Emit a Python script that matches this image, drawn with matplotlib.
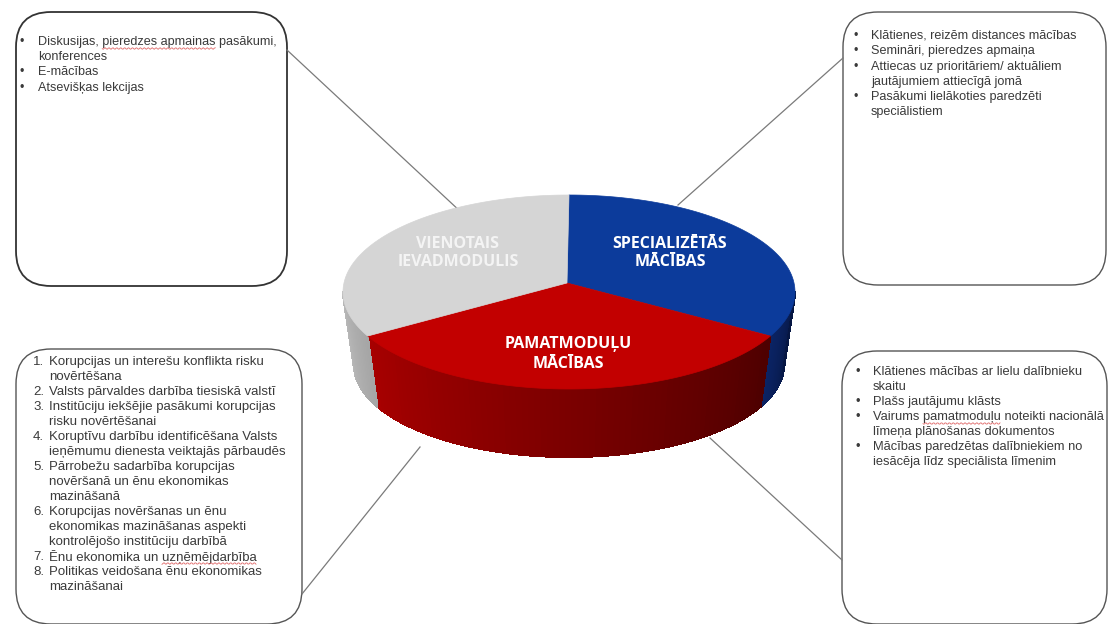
import numpy as np
import matplotlib
matplotlib.use("Agg")
import matplotlib.pyplot as plt
from matplotlib.patches import FancyBboxPatch, Polygon
from matplotlib.collections import PolyCollection
from matplotlib.colors import LinearSegmentedColormap

# pie data (clockwise from 12 o'clock)
slice_names  = ["SPECIALIZĒTĀS\nMĀCĪBAS", "PAMATMODUĻU\nMĀCĪBAS", "VIENOTAIS\nIEVADMODULIS"]
slice_values = [32.5, 35, 32.5]
slice_top    = ["#0c3b9b", "#c20000", "#d5d5d5"]
slice_side   = [("#0b2466", "#061642"), ("#a80000", "#4e0000"), ("#bdbdbd", "#a6a6a6")]
label_colors = ["white", "white", "#f4f4f4"]
label_xy     = [(670, 253), (568, 354), (458, 253)]

# box texts
tl_items = [["Diskusijas, pieredzes apmainas pasākumi,", "konferences"],
            ["E-mācības"],
            ["Atsevišķas lekcijas"]]
tr_items = [["Klātienes, reizēm distances mācības"],
            ["Semināri, pieredzes apmaiņa"],
            ["Attiecas uz prioritāriem/ aktuāliem", "jautājumiem attiecīgā jomā"],
            ["Pasākumi lielākoties paredzēti", "speciālistiem"]]
bl_items = [["Korupcijas un interešu konflikta risku", "novērtēšana"],
            ["Valsts pārvaldes darbība tiesiskā valstī"],
            ["Institūciju iekšējie pasākumi korupcijas", "risku novērtēšanai"],
            ["Koruptīvu darbību identificēšana Valsts", "ieņēmumu dienesta veiktajās pārbaudēs"],
            ["Pārrobežu sadarbība korupcijas", "novēršanā un ēnu ekonomikas", "mazināšanā"],
            ["Korupcijas novēršanas un ēnu", "ekonomikas mazināšanas aspekti", "kontrolējošo institūciju darbībā"],
            ["Ēnu ekonomika un uzņēmējdarbība"],
            ["Politikas veidošana ēnu ekonomikas", "mazināšanai"]]
br_items = [["Klātienes mācības ar lielu dalībnieku", "skaitu"],
            ["Plašs jautājumu klāsts"],
            ["Vairums pamatmoduļu noteikti nacionālā", "līmeņa plānošanas dokumentos"],
            ["Mācības paredzētas dalībniekiem no", "iesācēja līdz speciālista līmenim"]]

# words with a spell-check underline: (line text, word)
flagged = [("Diskusijas, pieredzes apmainas pasākumi,", "pieredzes apmainas"),
           ("Ēnu ekonomika un uzņēmējdarbība", "uzņēmējdarbība"),
           ("Vairums pamatmoduļu noteikti nacionālā", "pamatmoduļu")]

fig = plt.figure(figsize=(11.08, 6.24), dpi=100)
ax = fig.add_axes([0, 0, 1, 1])
ax.set_xlim(0, 1108)
ax.set_ylim(624, 0)
ax.axis("off")

# connector lines (under the pie)
for (x0, y0), (x1, y1) in [((287, 50), (462, 213)), ((843, 58), (678, 205)),
                           ((302, 594), (420, 447)), ((842, 560), (710, 438))]:
    ax.plot([x0, x1], [y0, y1], color="#7a7a7a", lw=0.9, zorder=1)

# boxes
def draw_box(x0, y0, x1, y1, ec, lw):
    ax.add_patch(FancyBboxPatch((x0, y0), x1 - x0, y1 - y0,
                                boxstyle="round,pad=0,rounding_size=35",
                                fc="white", ec=ec, lw=lw, zorder=0.5))

draw_box(16, 12, 287, 286, "#333333", 1.3)
draw_box(843, 12, 1106, 285, "#555555", 1.0)
draw_box(16, 349, 302, 624, "#555555", 1.0)
draw_box(842, 351, 1107, 624, "#555555", 1.0)

line_texts = []

def draw_list(items, mx, tx, y0, dy, fs, numbered=False):
    y = y0
    for i, lines in enumerate(items):
        mark = f"{i + 1}." if numbered else "•"
        ax.text(mx, y, mark, fontsize=fs, family="Liberation Sans",
                color="#3a3a3a", va="center", ha="left", zorder=3)
        for ln in lines:
            t = ax.text(tx, y, ln, fontsize=fs, family="Liberation Sans",
                        color="#3a3a3a", va="center", ha="left", zorder=3)
            line_texts.append((ln, tx, y, fs))
            y += dy

draw_list(tl_items, 20, 38, 42, 15.2, 9.1)
draw_list(tr_items, 854, 871, 36, 15.3, 9.1)
draw_list(bl_items, 33, 49, 362, 15.0, 9.5, numbered=True)
draw_list(br_items, 856, 873, 372, 15.0, 9.3)

# red wavy underline below flagged words
fig.canvas.draw()
renderer = fig.canvas.get_renderer()

def text_width(s, fs):
    tmp = ax.text(0, 0, s, fontsize=fs, family="Liberation Sans")
    w = tmp.get_window_extent(renderer).width
    tmp.remove()
    return w

for ln, word in flagged:
    for s, tx, y, fs in line_texts:
        if s == ln:
            start = s.index(word)
            x0 = tx + text_width(s[:start], fs) if start else tx
            x1 = x0 + text_width(word, fs)
            xs = np.arange(x0, x1, 1.0)
            ys = y + 6.5 + 0.8 * np.sin(xs * 1.6)
            ax.plot(xs, ys, color="#e06a6a", lw=0.6, zorder=3)

# 3D pie
cx = 569
apex = (567, 283)
top_cy, top_rx, top_ry = 292, 226, 97
bot_cy, bot_rx, bot_ry = 365, 215, 92

fracs = np.array(slice_values, dtype=float) / np.sum(slice_values)
edges = 90 - 360 * np.concatenate([[0], np.cumsum(fracs)])

def top_pt(t):
    r = np.radians(t)
    return cx + top_rx * np.cos(r), top_cy - top_ry * np.sin(r)

def bot_pt(t):
    r = np.radians(t)
    return cx + bot_rx * np.cos(r), bot_cy - bot_ry * np.sin(r)

# sides: only the front half (180..360 deg) is visible
for i in range(len(slice_values)):
    a_hi, a_lo = edges[i], edges[i + 1]
    lo, hi = a_lo % 360, (a_hi % 360) or 360
    if hi <= lo:
        hi += 360
    lo_v, hi_v = max(lo, 180), min(hi, 360)
    if hi_v <= lo_v:
        continue
    cmap = LinearSegmentedColormap.from_list("s", list(slice_side[i]))
    ts = np.linspace(lo_v, hi_v, 80)
    quads, cols = [], []
    for k in range(len(ts) - 1):
        t0, t1 = ts[k], ts[k + 1]
        quads.append([top_pt(t0), top_pt(t1), bot_pt(t1), bot_pt(t0)])
        cols.append(cmap((0.5 * (t0 + t1) - lo_v) / max(hi_v - lo_v, 1e-6)))
    ax.add_collection(PolyCollection(quads, facecolors=cols, edgecolors=cols,
                                     lw=0.8, antialiaseds=False, zorder=2))

# top faces
for i in range(len(slice_values)):
    ts = np.linspace(edges[i], edges[i + 1], 80)
    pts = [apex] + [top_pt(t) for t in ts]
    ax.add_patch(Polygon(pts, closed=True, fc=slice_top[i], ec=slice_top[i],
                         lw=0.5, zorder=3))

for name, (lx, ly), col in zip(slice_names, label_xy, label_colors):
    ax.text(lx, ly, name, fontsize=11.5, family="Open Sans", weight="bold",
            color=col, ha="center", va="center", linespacing=1.25, zorder=4)

fig.savefig("out.png", dpi=100)
